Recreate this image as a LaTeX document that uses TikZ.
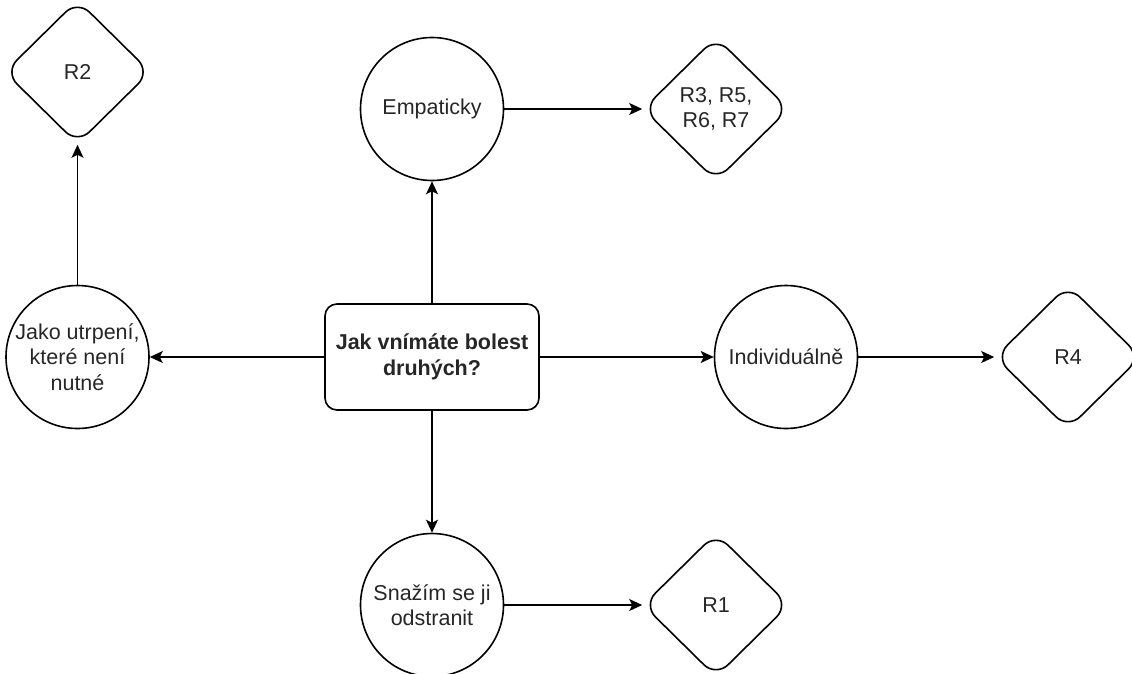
\documentclass[tikz,border=0pt]{standalone}
\usepackage{fontspec}
\setmainfont{Liberation Sans}
\usetikzlibrary{shapes.geometric,arrows.meta}
\tikzset{
  base/.style={draw=black, line width=1.6pt, align=center, font=\fontsize{21.5}{25.5}\selectfont, text=black!85},
  qbox/.style={base, rounded corners=12pt, minimum width=214pt, minimum height=106pt, inner sep=0pt, font=\fontsize{21.5}{25.5}\selectfont\bfseries},
  ans/.style={base, circle, minimum size=143pt, inner sep=0pt},
  res/.style={base, diamond, minimum width=146pt, minimum height=144pt, inner sep=0pt, rounded corners=17pt},
  conn/.style={line width=1.6pt, -{Stealth[length=13pt,width=12pt,inset=3pt]}}
}
\begin{document}
\begin{tikzpicture}[x=1pt,y=-1pt]
\useasboundingbox (0,0) rectangle (1132,673);
\node[qbox] (q) at (432,357) {Jak vnímáte bolest\\druhých?};
\node[ans] (emp) at (432,109) {Empaticky};
\node[ans] (jako) at (77.5,357) {Jako utrpení,\\které není\\nutné};
\node[ans] (ind) at (786,357) {Individuálně};
\node[ans] (snaz) at (432,605) {Snažím se ji\\odstranit};
\node[res] (r2) at (77.5,72) {R2};
\node[res] (r3) at (716,109) {R3, R5,\\R6, R7};
\node[res] (r4) at (1068,357) {R4};
\node[res] (r1) at (716,605) {R1};
\draw[conn] (q.north) -- (emp.south);
\draw[conn] (q.west) -- (jako.east);
\draw[conn] (q.east) -- (ind.west);
\draw[conn] (q.south) -- (snaz.north);
\draw[conn] (jako.north) -- (r2.south);
\draw[conn] (emp.east) -- (r3.west);
\draw[conn] (ind.east) -- (r4.west);
\draw[conn] (snaz.east) -- (r1.west);
\end{tikzpicture}
\end{document}
